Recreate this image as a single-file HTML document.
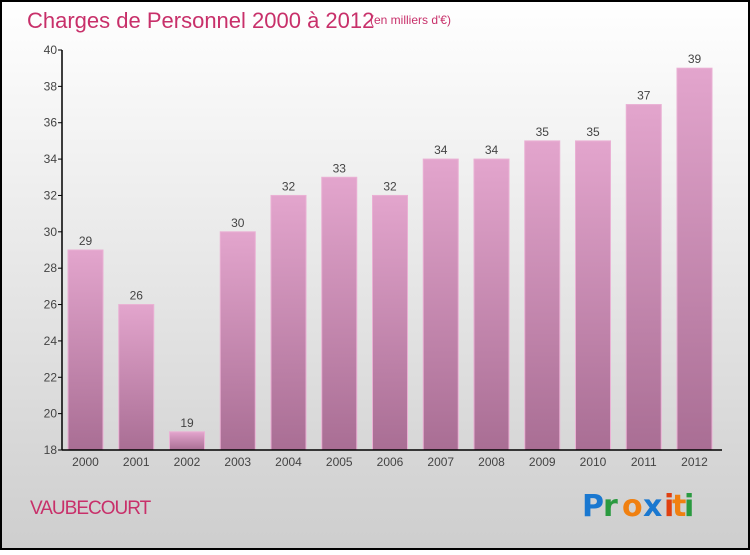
<!DOCTYPE html>
<html><head><meta charset="utf-8"><style>
html,body{margin:0;padding:0}
body{width:750px;height:550px;overflow:hidden;font-family:"Liberation Sans",sans-serif}
</style></head><body>
<svg id="c" width="750" height="550" xmlns="http://www.w3.org/2000/svg">
<defs>
<linearGradient id="bg" x1="0" y1="0" x2="0" y2="1"><stop offset="0" stop-color="#ffffff"/><stop offset="1" stop-color="#cecece"/></linearGradient>
<linearGradient id="bar" x1="0" y1="0" x2="0" y2="1"><stop offset="0" stop-color="#e3a5cd"/><stop offset="1" stop-color="#a96e94"/></linearGradient>
</defs>
<rect x="1" y="1" width="748" height="548" fill="url(#bg)" stroke="#000" stroke-width="2"/>
<text x="27" y="28" font-size="22" fill="#c8306a">Charges de Personnel 2000 à 2012</text>
<text x="370" y="24" font-size="12" fill="#c8306a">(en milliers d'€)</text>
<text x="30" y="514" font-size="19" fill="#c8306a" letter-spacing="-1">VAUBECOURT</text>
<g font-size="30" font-weight="bold" font-family="'DejaVu Sans',sans-serif">
<text x="582" y="516" fill="#1a78d0">P</text><text x="603" y="516" fill="#2a9a40">r</text><text x="622" y="516" fill="#f08010">o</text><text x="643" y="516" fill="#1a78d0">x</text><text x="664" y="516" fill="#e04010">i</text><text x="672" y="516" fill="#f08010">t</text><text x="684" y="516" fill="#2a9a40">i</text>
</g>
<g id="plot"></g>
</svg>
<script>
const categories=["2000","2001","2002","2003","2004","2005","2006","2007","2008","2009","2010","2011","2012"];
const values=[29,26,19,30,32,33,32,34,34,35,35,37,39];
const yTicks=[18,20,22,24,26,28,30,32,34,36,38,40];
const NS="http://www.w3.org/2000/svg";
const g=document.getElementById('plot');
const y0=450,y1=50,vmin=18,vmax=40,x0=62;
const y=v=>y0-(v-vmin)/(vmax-vmin)*(y0-y1);
const step=50.75,bw=35,first=68;
const xb=i=>first+i*step;
function mk(t,a,txt){const e=document.createElementNS(NS,t);for(const k in a)e.setAttribute(k,a[k]);if(txt!=null)e.textContent=txt;g.appendChild(e);return e;}
values.forEach((v,i)=>{
 const r=mk('rect',{x:xb(i),y:y(v),width:bw,height:y0-y(v),fill:'url(#bar)',stroke:'#eab0d4','stroke-width':1});
 
 
 const t=mk('text',{x:xb(i)+bw/2,y:y(v)-5,'text-anchor':'middle','font-size':12,fill:'#444'},String(v));
 
 
 const c=mk('text',{x:xb(i)+bw/2,y:466,'text-anchor':'middle','font-size':12,fill:'#444'},categories[i]);
 
 
});
yTicks.forEach(v=>{
 const l=mk('line',{x1:x0-4,x2:x0,y1:y(v),y2:y(v),stroke:'#000'});
 
 
 const t=mk('text',{x:x0-5,y:y(v)+4,'text-anchor':'end','font-size':12,fill:'#444'},String(v));
 
 
});
const ya=mk('line',{x1:x0,x2:x0,y1:y1,y2:y0,stroke:'#000','stroke-width':1.5});


const xa=mk('line',{x1:x0,x2:722,y1:y0,y2:y0,stroke:'#000','stroke-width':1.5});


</script>
</body></html>
